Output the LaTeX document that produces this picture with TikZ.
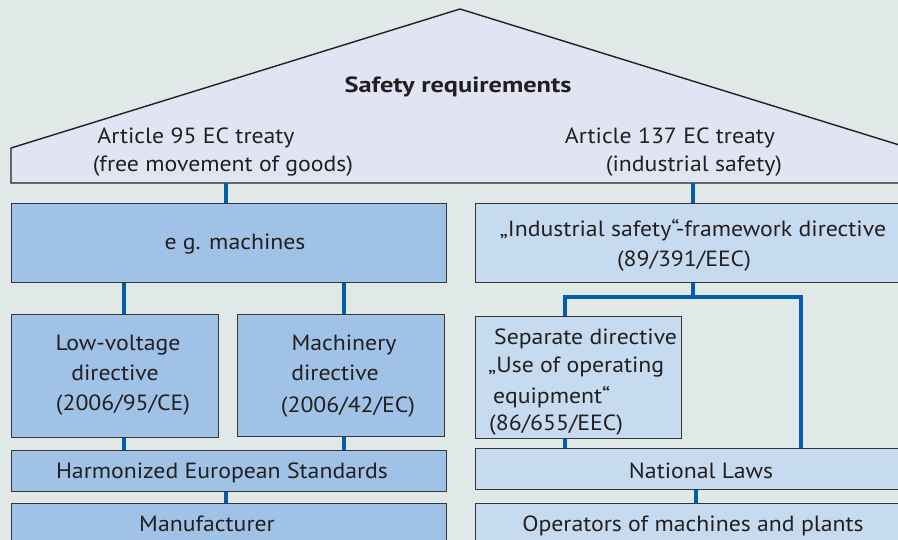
\documentclass[tikz,border=0pt]{standalone}
\usepackage{fontspec}
\setmainfont{PT Sans}[FakeStretch=1.08]
\newfontfamily\headfont{PT Sans}[FakeStretch=1.2]
\begin{document}
\definecolor{bgc}{RGB}{224,232,232}
\definecolor{roofc}{RGB}{224,228,243}
\definecolor{darkbox}{RGB}{159,194,230}
\definecolor{lightbox}{RGB}{198,219,240}
\definecolor{linkc}{RGB}{0,94,170}
\definecolor{ink}{RGB}{35,31,32}
\begin{tikzpicture}[x=1pt,y={(0pt,-1pt)},
  box/.style={draw=ink!90,line width=1.4pt,inner sep=0pt,anchor=north west},
  lbox/.style={box,fill=darkbox},
  rbox/.style={box,fill=lightbox},
  link/.style={draw=linkc,line width=4pt},
  txt/.style={text=ink,font=\fontsize{22}{24}\selectfont,inner sep=0pt,anchor=base,yshift=-1.5pt},
  txtl/.style={txt,anchor=base west}]
\useasboundingbox (0,0) rectangle (898,540);
\fill[bgc] (0,0) rectangle (898,540);
\clip (0,0) rectangle (898,540);

% roof
\filldraw[fill=roofc,draw=ink,line width=1.4pt,line join=miter]
  (11,183) -- (11,148) -- (460,9) -- (909,148) -- (909,183) -- cycle;
\coordinate (roofL) at (226,183);
\coordinate (roofR) at (693,183);

% x positions of the vertical links
\coordinate (xa) at (124,0);
\coordinate (xb) at (344,0);
\coordinate (xc) at (226,0);
\coordinate (xd) at (565,0);
\coordinate (xe) at (801,0);
\coordinate (xf) at (696,0);
\coordinate (jy) at (0,297);

% boxes
\node[lbox,minimum width=435pt,minimum height=79pt] (mach) at (11,203) {};
\node[rbox,minimum width=440pt,minimum height=79pt] (fw) at (475,203) {};
\node[lbox,minimum width=207pt,minimum height=123pt] (lv) at (11,314) {};
\node[lbox,minimum width=207pt,minimum height=122pt] (md) at (237,314) {};
\node[rbox,minimum width=206pt,minimum height=122pt] (sep) at (475,316) {};
\node[lbox,minimum width=435pt,minimum height=41pt] (hes) at (11,450) {};
\node[rbox,minimum width=440pt,minimum height=41pt] (nl) at (475,448) {};
\node[lbox,minimum width=435pt,minimum height=60pt] (man) at (11,503) {};
\node[rbox,minimum width=440pt,minimum height=60pt] (op) at (475,503) {};

% links
\draw[link] (roofL) -- (mach.north -| roofL);
\draw[link] (roofR) -- (fw.north -| roofR);
\draw[link] (mach.south -| xa) -- (lv.north -| xa);
\draw[link] (mach.south -| xb) -- (md.north -| xb);
\draw[link] (lv.south -| xa) -- (hes.north -| xa);
\draw[link] (md.south -| xb) -- (hes.north -| xb);
\draw[link] (hes.south -| xc) -- (man.north -| xc);
\draw[link] (fw.south -| roofR) -- (jy -| roofR);
\draw[link,line join=miter] (sep.north -| xd) -- (jy -| xd) -- (jy -| xe) -- (nl.north -| xe);
\draw[link] (sep.south -| xd) -- (nl.north -| xd);
\draw[link] (nl.south -| xf) -- (op.north -| xf);

% texts
\node[txt,font=\fontsize{22}{24}\headfont\bfseries] (t0) at (458,91) {Safety requirements};
\node[txt] (t1) at (196,142) {Article 95 EC treaty};
\node[txt] (t2) at (223,170) {(free movement of goods)};
\node[txt] (t3) at (670,142) {Article 137 EC treaty};
\node[txt] (t4) at (694,170) {(industrial safety)};
\node[txt] (t5) at (235,248) {e g. machines};
\node[txt] (t6) at (693,235) {„Industrial safety“-framework directive};
\node[txt] (t7) at (684,265) {(89/391/EEC)};
\node[txt] (t8) at (118,349) {Low-voltage};
\node[txt] (t9) at (115,379) {directive};
\node[txt] (t10) at (123,409) {(2006/95/CE)};
\node[txt] (t11) at (344,349) {Machinery};
\node[txt] (t12) at (335,379) {directive};
\node[txt] (t13) at (348,411) {(2006/42/EC)};
\node[txtl] (t14) at (494,343) {Separate directive};
\node[txtl] (t15) at (488,371) {„Use of operating};
\node[txtl] (t16) at (493,402) {equipment“};
\node[txtl] (t17) at (489,429) {(86/655/EEC)};
\node[txt] (t18) at (222,477) {Harmonized European Standards};
\node[txt] (t19) at (701,477) {National Laws};
\node[txt] (t20) at (207,530) {Manufacturer};
\node[txt] (t21) at (693,530) {Operators of machines and plants};
\end{tikzpicture}
\end{document}
